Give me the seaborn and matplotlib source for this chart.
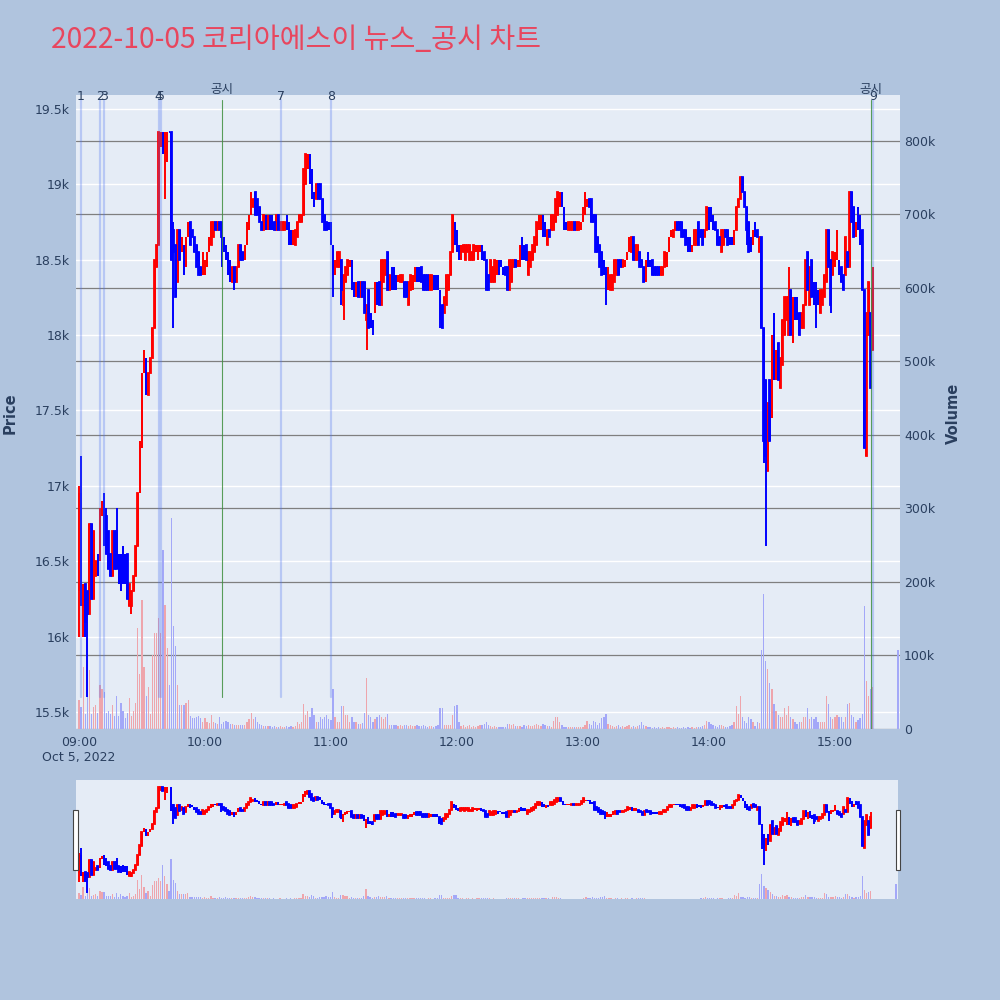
import numpy as np
import pandas as pd
import matplotlib
matplotlib.use('Agg')
import matplotlib.pyplot as plt
import matplotlib.transforms as mtransforms
from matplotlib.patches import Rectangle
import seaborn as sns

# 1분봉 시가 / 종가 (09:00 ~ 15:18)
open_09 = [16300, 16950, 16200, 16350, 16300, 16150, 16750, 16250, 16400, 16550,
           16500, 16800, 16950, 16800, 16700, 16550, 16400, 16700, 16700, 16550,
           16550, 16600, 16550, 16550, 16200, 16200, 16300, 16400, 16600, 16950,
           17250, 17750, 17850, 17600, 17750, 17850, 18050, 18450, 18600, 19250,
           19350, 19200, 19150, 19350, 19350, 18700, 18600, 18350, 18700, 18550,
           18600, 18450, 18650, 18750, 18700, 18650, 18600, 18550, 18450, 18400]
close_09 = [16950, 16200, 16350, 16100, 16150, 16750, 16250, 16700, 16500, 16400,
            16850, 16900, 16600, 16550, 16450, 16400, 16700, 16450, 16450, 16350,
            16300, 16350, 16350, 16250, 16350, 16300, 16400, 16600, 16950, 17300,
            17750, 17900, 17600, 17750, 17850, 18050, 18500, 18600, 19350, 19350,
            19200, 19350, 19350, 19350, 18500, 18550, 18250, 18700, 18500, 18650,
            18400, 18650, 18750, 18600, 18650, 18550, 18450, 18400, 18400, 18550]
open_10 = [18400, 18450, 18550, 18600, 18650, 18750, 18700, 18750, 18750, 18650,
           18600, 18550, 18500, 18350, 18450, 18350, 18450, 18600, 18550, 18500,
           18600, 18700, 18800, 18850, 18950, 18900, 18850, 18750, 18700, 18800,
           18700, 18800, 18800, 18750, 18700, 18800, 18700, 18700, 18700, 18800,
           18750, 18700, 18600, 18600, 18650, 18750, 18750, 18800, 19000, 19100,
           19200, 19100, 18950, 18900, 19000, 19000, 18900, 18800, 18750, 18750]
close_10 = [18500, 18550, 18650, 18750, 18750, 18700, 18750, 18700, 18650, 18550,
            18500, 18400, 18350, 18450, 18350, 18450, 18600, 18500, 18500, 18600,
            18750, 18800, 18950, 18900, 18800, 18800, 18750, 18700, 18800, 18700,
            18800, 18700, 18700, 18700, 18800, 18700, 18750, 18750, 18750, 18700,
            18600, 18600, 18700, 18700, 18750, 18800, 18800, 19100, 19200, 19200,
            19000, 18900, 18850, 19000, 18900, 18900, 18750, 18700, 18700, 18700]
open_11 = [18750, 18600, 18400, 18450, 18450, 18500, 18200, 18350, 18400, 18450,
           18500, 18350, 18250, 18350, 18250, 18350, 18350, 18100, 18300, 18150,
           18100, 18150, 18350, 18350, 18200, 18350, 18400, 18550, 18300, 18450,
           18450, 18400, 18350, 18350, 18350, 18350, 18350, 18200, 18300, 18300,
           18350, 18450, 18450, 18450, 18400, 18400, 18400, 18300, 18300, 18400,
           18400, 18400, 18300, 18200, 18150, 18200, 18300, 18400, 18550, 18750]
close_11 = [18600, 18400, 18500, 18550, 18550, 18300, 18400, 18450, 18500, 18500,
            18300, 18250, 18350, 18250, 18350, 18250, 18150, 18200, 18050, 18050,
            18050, 18350, 18200, 18200, 18500, 18500, 18500, 18300, 18400, 18300,
            18300, 18300, 18400, 18400, 18400, 18250, 18250, 18350, 18400, 18400,
            18450, 18350, 18350, 18350, 18300, 18300, 18300, 18400, 18400, 18300,
            18300, 18300, 18100, 18050, 18250, 18400, 18400, 18550, 18800, 18600]
open_12 = [18700, 18600, 18500, 18550, 18500, 18550, 18500, 18500, 18500, 18550,
           18500, 18550, 18600, 18550, 18500, 18400, 18350, 18350, 18350, 18400,
           18500, 18500, 18450, 18450, 18450, 18300, 18350, 18450, 18500, 18450,
           18450, 18650, 18600, 18600, 18400, 18450, 18500, 18550, 18600, 18700,
           18700, 18800, 18750, 18600, 18700, 18700, 18700, 18750, 18800, 18850,
           18950, 18850, 18750, 18700, 18700, 18700, 18750, 18700, 18700, 18700]
close_12 = [18550, 18500, 18600, 18600, 18600, 18600, 18600, 18550, 18600, 18600,
            18600, 18600, 18500, 18500, 18300, 18300, 18500, 18450, 18500, 18500,
            18400, 18450, 18400, 18400, 18300, 18500, 18500, 18500, 18450, 18500,
            18600, 18500, 18500, 18500, 18550, 18550, 18600, 18650, 18750, 18800,
            18800, 18650, 18650, 18700, 18650, 18800, 18800, 18900, 18950, 18950,
            18850, 18700, 18700, 18750, 18750, 18750, 18700, 18750, 18750, 18750]
open_13 = [18750, 18800, 18850, 18900, 18900, 18800, 18800, 18650, 18600, 18550,
           18500, 18450, 18300, 18300, 18300, 18350, 18400, 18500, 18500, 18450,
           18450, 18500, 18550, 18550, 18650, 18500, 18500, 18550, 18500, 18450,
           18350, 18550, 18500, 18500, 18450, 18450, 18450, 18400, 18400, 18450,
           18450, 18550, 18650, 18650, 18700, 18750, 18750, 18750, 18700, 18700,
           18650, 18650, 18550, 18600, 18600, 18750, 18700, 18700, 18650, 18700]
close_13 = [18850, 18950, 18900, 18850, 18750, 18750, 18550, 18550, 18450, 18400,
            18400, 18400, 18450, 18400, 18400, 18500, 18500, 18400, 18450, 18500,
            18500, 18550, 18650, 18650, 18500, 18600, 18600, 18450, 18450, 18350,
            18500, 18450, 18450, 18400, 18400, 18400, 18400, 18450, 18450, 18550,
            18550, 18650, 18700, 18700, 18750, 18700, 18700, 18650, 18650, 18600,
            18550, 18550, 18600, 18700, 18700, 18600, 18650, 18600, 18700, 18850]
open_14 = [18850, 18850, 18800, 18750, 18700, 18650, 18550, 18600, 18700, 18700,
           18650, 18650, 18600, 18700, 18850, 18900, 19050, 18950, 18850, 18750,
           18650, 18600, 18750, 18700, 18550, 18650, 18050, 17700, 17100, 17700,
           17450, 18150, 17700, 17950, 17650, 17800, 18000, 18100, 18000, 18300,
           17950, 18250, 18250, 18150, 18050, 18050, 18200, 18550, 18200, 18500,
           18350, 18350, 18300, 18150, 18200, 18250, 18350, 18700, 18500, 18400]
close_14 = [18700, 18750, 18700, 18700, 18600, 18600, 18700, 18700, 18650, 18600,
            18600, 18600, 18700, 18850, 18900, 19050, 18950, 18850, 18700, 18550,
            18550, 18700, 18650, 18650, 18650, 18050, 17300, 17200, 17550, 17300,
            18000, 17700, 17900, 17700, 17850, 18100, 18250, 18250, 18250, 18000,
            18250, 18100, 18100, 18000, 18150, 18200, 18500, 18300, 18450, 18250,
            18200, 18150, 18200, 18300, 18300, 18400, 18700, 18450, 18200, 18550]
open_15 = [18450, 18500, 18500, 18450, 18400, 18400, 18550, 18450, 18950, 18850,
           18650, 18850, 18800, 18700, 18300, 17200, 18000, 18150, 17900]
close_15 = [18550, 18700, 18400, 18350, 18300, 18650, 18450, 18950, 18750, 18650,
            18750, 18700, 18600, 18300, 17250, 18150, 18350, 17650, 18300]
close_1530 = 17500

# 꼬리 (고가 / 저가) : 분 -> 가격
wick_high = {0: 17000, 1: 17200, 13: 16850, 18: 16850, 45: 18750, 338: 18450, 378: 18450}
wick_low = {0: 16000, 2: 16000, 3: 16000, 4: 15600, 25: 16150, 41: 18900, 45: 18050,
            68: 18450, 74: 18300, 121: 18250, 125: 18200, 126: 18100, 137: 17900,
            140: 18000, 172: 18050, 251: 18200, 306: 18550, 318: 18600, 326: 17150,
            327: 16600, 351: 18050, 358: 18150}

# 거래량 (천주)
vol_09 = [40, 30, 84, 20, 75, 80, 20, 30, 33, 22,
          60, 54, 51, 22, 25, 20, 33, 18, 45, 18,
          36, 25, 15, 22, 42, 18, 25, 36, 137, 75,
          175, 84, 45, 57, 20, 101, 131, 130, 151, 130,
          243, 169, 110, 60, 287, 140, 113, 60, 33, 33,
          33, 36, 40, 18, 15, 15, 16, 18, 15, 10]
vol_10 = [15, 10, 8, 19, 10, 8, 7, 16, 7, 10,
          11, 10, 7, 7, 6, 5, 5, 6, 5, 6,
          10, 13, 22, 13, 16, 10, 7, 5, 4, 4,
          4, 4, 3, 4, 3, 3, 4, 3, 3, 4,
          3, 4, 3, 4, 10, 7, 10, 34, 19, 25,
          16, 28, 19, 10, 10, 16, 13, 16, 19, 13]
vol_11 = [12, 54, 16, 10, 10, 31, 31, 19, 19, 10,
          16, 10, 10, 7, 7, 8, 22, 69, 19, 16,
          10, 13, 16, 19, 16, 13, 16, 20, 5, 5,
          6, 5, 4, 5, 4, 5, 6, 4, 5, 4,
          4, 5, 4, 4, 5, 4, 3, 4, 4, 3,
          4, 5, 28, 28, 6, 5, 5, 6, 19, 31]
vol_12 = [32, 10, 4, 5, 3, 4, 5, 3, 4, 3,
          4, 5, 5, 7, 9, 6, 4, 3, 4, 3,
          3, 3, 3, 3, 7, 7, 5, 7, 4, 4,
          4, 3, 5, 4, 5, 4, 4, 5, 7, 5,
          4, 7, 5, 4, 4, 3, 11, 17, 17, 10,
          6, 3, 3, 3, 3, 3, 3, 3, 3, 3]
vol_13 = [3, 6, 11, 7, 5, 11, 10, 6, 8, 15,
          16, 20, 7, 5, 4, 3, 4, 5, 3, 4,
          3, 4, 5, 3, 4, 3, 4, 5, 9, 6,
          4, 3, 3, 2, 3, 2, 3, 2, 3, 2,
          3, 3, 2, 3, 2, 3, 2, 2, 3, 2,
          3, 2, 3, 2, 3, 3, 3, 4, 5, 11]
vol_14 = [10, 7, 5, 4, 3, 6, 5, 4, 3, 3,
          4, 6, 10, 31, 20, 45, 16, 11, 8, 16,
          13, 10, 4, 10, 8, 107, 184, 92, 81, 63,
          54, 34, 25, 19, 16, 16, 28, 19, 31, 16,
          13, 10, 7, 10, 10, 16, 16, 28, 13, 16,
          13, 16, 10, 10, 10, 10, 45, 34, 16, 13]
vol_15 = [17, 19, 16, 17, 10, 16, 34, 36, 19, 17,
          10, 12, 15, 21, 167, 65, 45, 54, 57]
vol_1530 = 108

# 뉴스 / 공시 시각 (분)
news_minutes = [1, 10, 12, 38, 39, 96, 120, 378]
news_labels = ['1', '2', '3', '4', '5', '7', '8', '9']
notice_minutes = [68, 377]

price_ticks = [15500, 16000, 16500, 17000, 17500, 18000, 18500, 19000, 19500]
price_labels = ['15.5k', '16k', '16.5k', '17k', '17.5k', '18k', '18.5k', '19k', '19.5k']
vol_ticks = [0, 100, 200, 300, 400, 500, 600, 700, 800]
vol_labels = ['0', '100k', '200k', '300k', '400k', '500k', '600k', '700k', '800k']
time_ticks = [0, 60, 120, 180, 240, 300, 360]
time_labels = ['09:00\nOct 5, 2022', '10:00', '11:00', '12:00', '13:00', '14:00', '15:00']

opens = open_09 + open_10 + open_11 + open_12 + open_13 + open_14 + open_15
closes = close_09 + close_10 + close_11 + close_12 + close_13 + close_14 + close_15
vols = vol_09 + vol_10 + vol_11 + vol_12 + vol_13 + vol_14 + vol_15
df = pd.DataFrame({'minute': list(range(len(opens))) + [390],
                   'open': opens + [close_1530],
                   'close': closes + [close_1530],
                   'volume': vols + [vol_1530]})
df['high'] = df[['open', 'close']].max(axis=1)
df['low'] = df[['open', 'close']].min(axis=1)
for m, p in wick_high.items():
    df.loc[df.minute == m, 'high'] = p
for m, p in wick_low.items():
    df.loc[df.minute == m, 'low'] = p
df['up'] = df['close'] > df['open']
df['body_lo'] = df[['open', 'close']].min(axis=1)
df['body_h'] = (df['close'] - df['open']).abs()

PRICE_LIM = (15387, 19593)
VOL_LIM = (0, 862.5)
X_LIM = (-1.4, 391)
BG = '#E5ECF6'
TXT = '#2a3f5f'
UP, DOWN = '#FF0000', '#0000FF'
UP_VOL, DOWN_VOL = '#EEA5AC', '#A3A8F8'

sns.set_theme(style='white')
plt.rcParams['font.family'] = ['DejaVu Sans', 'Noto Sans CJK KR']
plt.rcParams['patch.force_edgecolor'] = False
KR = ['Noto Sans CJK KR', 'DejaVu Sans']


def draw(ax_v, ax_p):
    for is_up, col, vcol in ((True, UP, UP_VOL), (False, DOWN, DOWN_VOL)):
        sub = df[df['up'] == is_up]
        ax_v.bar(sub['minute'], sub['volume'], width=0.6,
                 color=vcol, edgecolor='none', linewidth=0, zorder=2)
        # 꼬리 (2px)
        ax_p.vlines(sub['minute'], sub['low'], sub['high'],
                    color=col, linewidth=1.4, zorder=3)
        # 몸통
        ax_p.bar(sub['minute'], sub['body_h'], bottom=sub['body_lo'], width=0.3,
                 color=col, edgecolor=col, linewidth=1.3, zorder=3)
    ax_v.set_xlim(*X_LIM)
    ax_v.set_ylim(*VOL_LIM)
    ax_p.set_ylim(*PRICE_LIM)
    ax_v.set_facecolor(BG)
    for a in (ax_v, ax_p):
        for s in a.spines.values():
            s.set_visible(False)


fig = plt.figure(figsize=(10, 10), dpi=100)
fig.patch.set_facecolor('#B0C4DE')

# 메인 차트
ax_v = fig.add_axes([0.076, 0.271, 0.824, 0.634])
ax_p = ax_v.twinx()
draw(ax_v, ax_p)

blend_p = mtransforms.blended_transform_factory(ax_v.transAxes, ax_p.transData)
for p in price_ticks:
    ax_v.plot([0, 1], [p, p], transform=blend_p, color='white', lw=1, zorder=0.5)
for v in vol_ticks:
    ax_v.axhline(v, color='#7f7f7f', lw=0.9, zorder=0.6)

# 뉴스(파랑) / 공시(초록) 세로선
ytop = PRICE_LIM[0] + (PRICE_LIM[1] - PRICE_LIM[0]) * (1 - 5 / 634)
day_low = df['low'].min()
for m in news_minutes:
    y0 = day_low if m < 360 else PRICE_LIM[0]
    ax_p.plot([m, m], [y0, ytop], color=(0.3, 0.45, 0.95), alpha=0.3, lw=1.6, zorder=4)
for m in notice_minutes:
    y0 = day_low if m < 360 else PRICE_LIM[0]
    ax_p.plot([m, m], [y0, ytop], color='#3f8f3f', alpha=0.85, lw=0.8, zorder=4)

btrans = mtransforms.blended_transform_factory(ax_p.transData, ax_p.transAxes)
for m, lab in zip(news_minutes, news_labels):
    ax_p.text(m, 1 - 2 / 634, lab, transform=btrans, ha='center', va='center',
              fontsize=9, color=TXT, zorder=6, clip_on=False)
for m in notice_minutes:
    ax_p.text(m, 1 + 6 / 634, '공시', transform=btrans, ha='center', va='center',
              fontsize=9, color=TXT, family=KR, zorder=6, clip_on=False)

ax_p.yaxis.tick_left()
ax_p.yaxis.set_label_position('left')
ax_v.yaxis.tick_right()
ax_v.yaxis.set_label_position('right')
ax_p.set_yticks(price_ticks, price_labels)
ax_v.set_yticks(vol_ticks, vol_labels)
ax_v.set_xticks(time_ticks, time_labels)
ax_p.tick_params(axis='y', length=0, pad=4.5, labelsize=9, labelcolor=TXT)
ax_v.tick_params(axis='y', length=0, pad=3, labelsize=9, labelcolor=TXT)
ax_v.tick_params(axis='x', length=0, pad=5, labelsize=9, labelcolor=TXT)
ax_v.grid(False)
ax_p.grid(False)

fig.text(0.010, 0.587, 'Price', rotation=90, ha='center', va='center',
         fontsize=10.5, fontweight='bold', color=TXT)
fig.text(0.953, 0.587, 'Volume', rotation=90, ha='center', va='center',
         fontsize=10.5, fontweight='bold', color=TXT)
fig.text(0.051, 0.960, '2022-10-05 코리아에스이 뉴스_공시 차트', ha='left', va='center',
         fontsize=20.3, color='#E8465E', family=KR)

# 레인지 슬라이더
ax_sv = fig.add_axes([0.076, 0.101, 0.822, 0.119])
ax_sp = ax_sv.twinx()
draw(ax_sv, ax_sp)
for a in (ax_sv, ax_sp):
    a.set_xticks([])
    a.set_yticks([])
for hx in (0.0733, 0.8955):
    fig.patches.append(Rectangle((hx, 0.130), 0.0042, 0.060, transform=fig.transFigure,
                                 facecolor='white', edgecolor='#444444', lw=0.8))

fig.savefig('out.png', dpi=100, facecolor=fig.get_facecolor())
